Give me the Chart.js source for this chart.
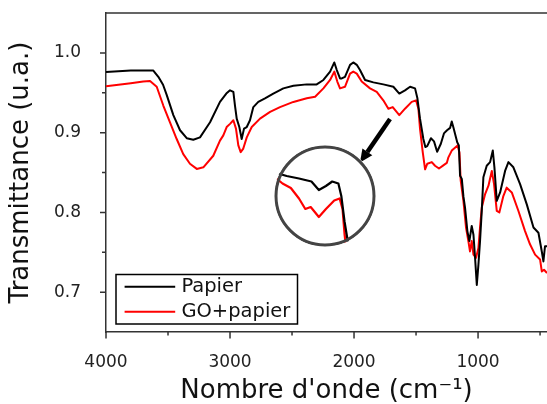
<!DOCTYPE html>
<html>
<head>
<meta charset="utf-8">
<script src="https://cdn.jsdelivr.net/npm/chart.js@4.4.0/dist/chart.umd.min.js"></script>
<style>
  html, body { margin: 0; padding: 0; background: #fff; }
  #wrap { position: relative; width: 547px; height: 404px; overflow: hidden; }
  #main { position: absolute; left: 0; top: 0; }
  #lens { position: absolute; left: 273px; top: 144px; clip-path: circle(51px at 52px 52px); }
</style>
</head>
<body>
<div id="wrap">
  <canvas id="main" width="547" height="404"></canvas>
  <canvas id="lens" width="104" height="104"></canvas>
</div>
<script>
// FTIR spectra: wavenumber (cm-1) and transmittance (u.a.)
const seriesNames = ['Papier', 'GO+papier'];

const papierWn = [4000,3900,3800,3700,3620,3578,3540,3510,3457,3403,3349,3296,3242,3161,3081,3030,3000,2973,2960,2946,2925,2906,2887,2865,2839,2812,2772,2718,2651,2570,2489,2381,2301,2247,2193,2159,2139,2113,2099,2073,2032,2006,1978,1952,1911,1844,1764,1683,1635,1589,1548,1508,1489,1468,1441,1425,1410,1380,1355,1330,1300,1275,1250,1225,1212,1198,1183,1168,1155,1145,1131,1118,1105,1086,1070,1051,1037,1024,1010,997,984,970,957,930,903,881,868,849,822,782,755,715,661,607,553,513,486,473,460,444];
const papierT = [0.976,0.977,0.978,0.978,0.978,0.970,0.960,0.947,0.922,0.903,0.893,0.891,0.894,0.913,0.9385,0.949,0.953,0.951,0.934,0.9175,0.907,0.892,0.905,0.907,0.9155,0.932,0.9385,0.943,0.949,0.9555,0.9587,0.9605,0.9605,0.966,0.9765,0.988,0.9785,0.968,0.968,0.970,0.985,0.988,0.985,0.9785,0.966,0.963,0.9605,0.9575,0.949,0.953,0.9575,0.9555,0.943,0.9175,0.892,0.882,0.883,0.893,0.889,0.876,0.886,0.899,0.903,0.906,0.914,0.906,0.897,0.888,0.884,0.846,0.842,0.820,0.806,0.7765,0.764,0.783,0.772,0.743,0.709,0.7345,0.764,0.802,0.844,0.8585,0.863,0.8775,0.8565,0.8145,0.825,0.852,0.863,0.8565,0.8355,0.810,0.781,0.7745,0.751,0.7385,0.7575,0.7575];

const goWn = [4000,3900,3800,3700,3645,3591,3538,3484,3430,3377,3323,3268,3215,3135,3081,3054,3027,3000,2973,2952,2933,2914,2893,2865,2825,2758,2677,2597,2489,2381,2314,2247,2193,2159,2135,2113,2073,2032,2006,1978,1938,1871,1817,1764,1723,1688,1635,1589,1535,1500,1481,1468,1446,1427,1409,1373,1347,1315,1280,1252,1239,1212,1165,1150,1140,1118,1097,1078,1065,1051,1037,1016,997,984,970,943,916,889,871,849,828,796,769,728,675,621,581,540,500,486,468,444];
const goT = [0.958,0.960,0.962,0.964,0.9646,0.9575,0.934,0.913,0.892,0.873,0.861,0.8545,0.8565,0.871,0.890,0.8965,0.907,0.911,0.9155,0.905,0.884,0.8755,0.880,0.894,0.907,0.9175,0.926,0.932,0.9385,0.943,0.945,0.9555,0.966,0.9765,0.964,0.9555,0.9575,0.974,0.9765,0.974,0.964,0.9555,0.951,0.9405,0.930,0.932,0.922,0.930,0.9385,0.9405,0.930,0.905,0.8755,0.854,0.861,0.863,0.8585,0.855,0.859,0.862,0.869,0.8775,0.884,0.875,0.840,0.8145,0.781,0.764,0.751,0.764,0.747,0.743,0.7555,0.781,0.806,0.823,0.8335,0.852,0.8355,0.802,0.800,0.8205,0.831,0.825,0.802,0.7765,0.760,0.747,0.741,0.726,0.728,0.724];

// axis ticks (major ones carry a label)
const xTicks = [4000,3500,3000,2500,2000,1500,1000,500];
const xLabels = ['4000','','3000','','2000','','1000',''];
const yTicks = [0.7,0.75,0.8,0.85,0.9,0.95,1.0];
const yLabels = ['0.7','','0.8','','0.9','','1.0'];

// magnified window around the 1500-1800 cm-1 region
const lensX = [1257, 1933];
const lensY = [0.891, 0.995];

// arrow from the spectrum toward the magnifier (data coordinates)
const arrowFrom = [1710, 0.917];
const arrowTo = [1952, 0.8624];

const FONT = "'DejaVu Sans', sans-serif";
const AXIS = '#333';

function pts(xs, ys) { return xs.map((x, i) => ({ x: x, y: ys[i] })); }

function makeDatasets(w) {
  return [
    { label: seriesNames[0], data: pts(papierWn, papierT), borderColor: '#000000', borderWidth: w,
      pointRadius: 0, tension: 0, fill: false, borderJoinStyle: 'round' },
    { label: seriesNames[1], data: pts(goWn, goT), borderColor: '#ff0000', borderWidth: w,
      pointRadius: 0, tension: 0, fill: false, borderJoinStyle: 'round' }
  ];
}

const framePlugin = {
  id: 'frame',
  afterDraw(chart) {
    const { ctx, chartArea: a, scales: { x, y } } = chart;
    ctx.save();
    ctx.strokeStyle = AXIS;
    ctx.lineWidth = 1.5;
    ctx.beginPath();
    ctx.moveTo(a.left, a.top);
    ctx.lineTo(a.right, a.top);
    yTicks.forEach((v, i) => {
      const py = y.getPixelForValue(v);
      const len = yLabels[i] ? 6 : 4;
      ctx.moveTo(a.left, py);
      ctx.lineTo(a.left - len, py);
    });
    xTicks.forEach((v, i) => {
      const px = x.getPixelForValue(v);
      const len = xLabels[i] ? 6.5 : 3.5;
      ctx.moveTo(px, a.bottom);
      ctx.lineTo(px, a.bottom + len);
    });
    ctx.stroke();
    ctx.restore();
  }
};

const arrowPlugin = {
  id: 'arrow',
  afterDraw(chart) {
    const { ctx, scales: { x, y } } = chart;
    const x0 = x.getPixelForValue(arrowFrom[0]), y0 = y.getPixelForValue(arrowFrom[1]);
    const x1 = x.getPixelForValue(arrowTo[0]), y1 = y.getPixelForValue(arrowTo[1]);
    const ang = Math.atan2(y1 - y0, x1 - x0);
    const head = 13, half = 6;
    const bx = x1 - head * Math.cos(ang), by = y1 - head * Math.sin(ang);
    ctx.save();
    ctx.strokeStyle = '#000';
    ctx.fillStyle = '#000';
    ctx.lineWidth = 4.5;
    ctx.beginPath();
    ctx.moveTo(x0, y0);
    ctx.lineTo(bx, by);
    ctx.stroke();
    ctx.beginPath();
    ctx.moveTo(x1, y1);
    ctx.lineTo(bx + half * Math.sin(ang), by - half * Math.cos(ang));
    ctx.lineTo(bx - half * Math.sin(ang), by + half * Math.cos(ang));
    ctx.closePath();
    ctx.fill();
    ctx.restore();
  }
};

const legendPlugin = {
  id: 'legendBox',
  afterDraw(chart) {
    const ctx = chart.ctx;
    ctx.save();
    ctx.strokeStyle = '#000';
    ctx.lineWidth = 1.5;
    ctx.strokeRect(116, 274.5, 181.5, 49.5);
    const rows = [[286.7, '#000000'], [311.7, '#ff0000']];
    ctx.font = '19.5px ' + FONT;
    ctx.textBaseline = 'middle';
    ctx.textAlign = 'left';
    rows.forEach((r, i) => {
      ctx.strokeStyle = r[1];
      ctx.lineWidth = 2;
      ctx.beginPath();
      ctx.moveTo(124.6, r[0]);
      ctx.lineTo(175.2, r[0]);
      ctx.stroke();
      ctx.fillStyle = '#111';
      ctx.fillText(seriesNames[i], 181.4, r[0] + 0.5);
    });
    ctx.restore();
  }
};

new Chart(document.getElementById('main'), {
  type: 'line',
  data: { datasets: makeDatasets(2) },
  options: {
    responsive: false,
    animation: false,
    devicePixelRatio: 1,
    layout: { padding: { top: 13, right: 0, left: 0, bottom: 0 } },
    plugins: { legend: { display: false }, tooltip: { enabled: false } },
    scales: {
      x: {
        type: 'linear', reverse: true, min: 444, max: 4000,
        afterBuildTicks: s => { s.ticks = xTicks.map(v => ({ value: v })); },
        afterFit: s => { s.height = 72; s.paddingLeft = 0; s.paddingRight = 0; },
        grid: { display: false },
        border: { display: true, color: AXIS, width: 1.5 },
        ticks: {
          autoSkip: false, maxRotation: 0, padding: 12, color: '#222',
          font: { family: FONT, size: 17 },
          callback: (v, i) => xLabels[i]
        },
        title: {
          display: true, text: "Nombre d'onde (cm\u207B\u00B9)", color: '#111',
          font: { family: FONT, size: 26 }, padding: { top: 0, bottom: -3 }
        }
      },
      y: {
        type: 'linear', min: 0.65, max: 1.05,
        afterBuildTicks: s => { s.ticks = yTicks.map(v => ({ value: v })); },
        afterFit: s => { s.width = 106; s.paddingTop = 0; s.paddingBottom = 0; },
        grid: { display: false },
        border: { display: true, color: AXIS, width: 1.5 },
        ticks: {
          autoSkip: false, padding: 17, color: '#222',
          font: { family: FONT, size: 17 },
          callback: (v, i) => yLabels[i]
        },
        title: {
          display: true, text: 'Transmittance (u.a.)', color: '#111',
          font: { family: FONT, size: 26 }, padding: { top: 6, bottom: 0 }
        }
      }
    }
  },
  plugins: [framePlugin, arrowPlugin, legendPlugin]
});

// magnifier: same spectra drawn on a narrow window, clipped to a circle
new Chart(document.getElementById('lens'), {
  type: 'line',
  data: { datasets: makeDatasets(2.2) },
  options: {
    responsive: false,
    animation: false,
    devicePixelRatio: 1,
    layout: { padding: 0 },
    plugins: { legend: { display: false }, tooltip: { enabled: false } },
    scales: {
      x: { type: 'linear', reverse: true, min: lensX[0], max: lensX[1], display: false },
      y: { type: 'linear', min: lensY[0], max: lensY[1], display: false }
    }
  },
  plugins: [{
    id: 'lensRing',
    beforeDraw(chart) {
      const ctx = chart.ctx;
      ctx.save();
      ctx.fillStyle = '#fff';
      ctx.fillRect(0, 0, chart.width, chart.height);
      ctx.restore();
    },
    afterDatasetsDraw(chart) {
      const ctx = chart.ctx;
      ctx.save();
      ctx.strokeStyle = '#444';
      ctx.lineWidth = 3;
      ctx.beginPath();
      ctx.arc(chart.width / 2, chart.height / 2, 49, 0, Math.PI * 2);
      ctx.stroke();
      ctx.restore();
    }
  }]
});
</script>
</body>
</html>
